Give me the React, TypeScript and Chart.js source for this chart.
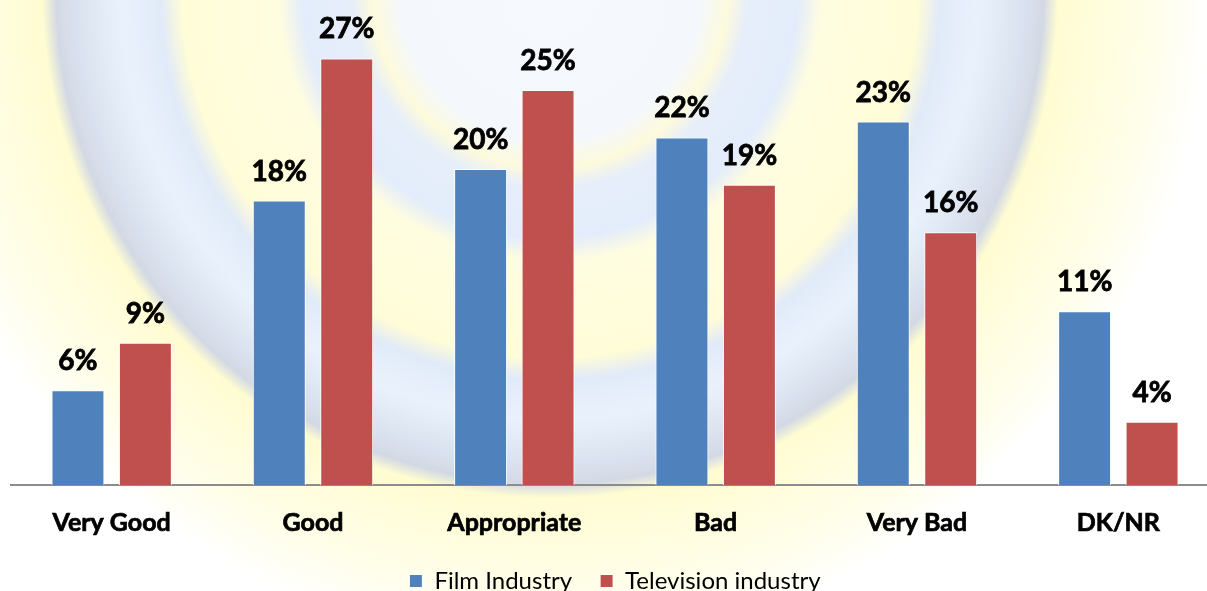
import React, { useEffect, useRef } from "react";
import { Chart, registerables } from "chart.js";

Chart.register(...registerables);

const categories = ["Very Good", "Good", "Appropriate", "Bad", "Very Bad", "DK/NR"];
const filmIndustry = [6, 18, 20, 22, 23, 11];
const televisionIndustry = [9, 27, 25, 19, 16, 4];
const seriesNames = ["Film Industry", "Television industry"];
const yMin = 0;
const yMax = 30;

const FONT = "Lato, 'Open Sans', 'DejaVu Sans', sans-serif";

const watermark = {
  id: "watermark",
  beforeDraw(chart: any) {
    const { ctx, width, height } = chart;
    ctx.save();
    const cx = 550;
    const cy = -10;
    const R = 660;
    const g = ctx.createRadialGradient(cx, cy, 0, cx, cy, R);
    const st = (r: number, c: string) => g.addColorStop(Math.min(1, r / R), c);
    st(0, "#f6f9fd");
    st(150, "#f4f8fd");
    st(178, "#fdfadc");
    st(198, "#e6eefa");
    st(248, "#e3ecfa");
    st(272, "#fffde0");
    st(368, "#fffcd8");
    st(390, "#e1eaf8");
    st(430, "#e9f2fc");
    st(476, "#dae1ee");
    st(494, "#d3d9e4");
    st(508, "#fffcd2");
    st(600, "#fffee9");
    st(660, "#ffffff");
    ctx.fillStyle = g;
    ctx.fillRect(0, 0, width, height);
    ctx.restore();
  },
};

const valueLabels = {
  id: "valueLabels",
  afterDatasetsDraw(chart: any) {
    const { ctx } = chart;
    ctx.save();
    ctx.font = `bold 28px ${FONT}`;
    ctx.fillStyle = "#000000";
    ctx.strokeStyle = "#000000";
    ctx.lineWidth = 0.8;
    ctx.textAlign = "center";
    ctx.textBaseline = "alphabetic";
    chart.data.datasets.forEach((ds: any, i: number) => {
      const meta = chart.getDatasetMeta(i);
      meta.data.forEach((bar: any, j: number) => {
        const t = `${ds.data[j]}%`;
        ctx.fillText(t, bar.x, bar.y - 20);
        ctx.strokeText(t, bar.x, bar.y - 20);
      });
    });
    ctx.restore();
  },
};

export default function App() {
  const canvasRef = useRef<HTMLCanvasElement | null>(null);

  useEffect(() => {
    if (!canvasRef.current) return;
    const chart = new Chart(canvasRef.current, {
      type: "bar",
      data: {
        labels: categories,
        datasets: [
          {
            label: seriesNames[0],
            data: filmIndustry,
            backgroundColor: "#4F81BD",
            borderColor: "#ffffff",
            borderWidth: 1,
          },
          {
            label: seriesNames[1],
            data: televisionIndustry,
            backgroundColor: "#C0504D",
            borderColor: "#ffffff",
            borderWidth: 1,
          },
        ],
      },
      options: {
        responsive: false,
        maintainAspectRatio: false,
        animation: false,
        datasets: {
          bar: { categoryPercentage: 0.67, barPercentage: 0.785 },
        },
        layout: { padding: { left: 11, right: 3, top: 11, bottom: 0 } },
        scales: {
          x: {
            grid: { display: false, drawTicks: false },
            border: { display: true, color: "#8c8c8c", width: 2 },
            ticks: {
              color: "#000000",
              font: { family: FONT, size: 25, weight: "bold" },
              textStrokeColor: "#000000",
              textStrokeWidth: 0.7,
              padding: 23,
              maxRotation: 0,
              autoSkip: false,
            },
            afterFit: (scale: any) => {
              scale.height = 56;
            },
          },
          y: {
            display: false,
            min: yMin,
            max: yMax,
          },
        },
        plugins: {
          tooltip: { enabled: false },
          legend: {
            position: "bottom",
            labels: {
              boxWidth: 13,
              boxHeight: 13,
              padding: 28,
              color: "#000000",
              font: { family: FONT, size: 24 },
            },
          },
        },
      },
      plugins: [watermark, valueLabels],
    });
    return () => chart.destroy();
  }, []);

  return (
    <div
      style={{
        position: "absolute",
        left: 0,
        top: 0,
        width: 1207,
        height: 591,
        overflow: "hidden",
        background: "#ffffff",
      }}
    >
      <canvas ref={canvasRef} width={1222} height={603} style={{ display: "block" }} />
    </div>
  );
}
